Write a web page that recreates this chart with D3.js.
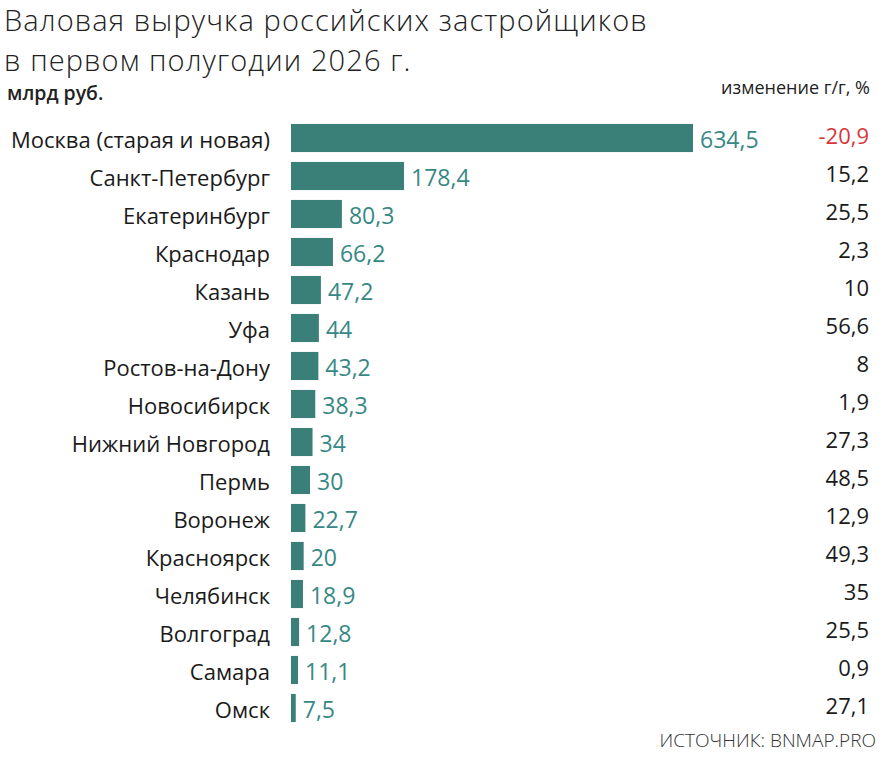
<!DOCTYPE html>
<html>
<head>
<meta charset="utf-8">
<script src="https://cdn.jsdelivr.net/npm/d3@7"></script>
<style>
  body { margin: 0; background: #fff; }
  svg { display: block; }
</style>
</head>
<body>
<svg id="chart"></svg>
<script>
const CITIES = ['Москва (старая и новая)', 'Санкт-Петербург', 'Екатеринбург', 'Краснодар', 'Казань', 'Уфа',
    'Ростов-на-Дону', 'Новосибирск', 'Нижний Новгород', 'Пермь', 'Воронеж', 'Красноярск',
    'Челябинск', 'Волгоград', 'Самара', 'Омск'];
const REVENUE = [634.5, 178.4, 80.3, 66.2, 47.2, 44, 43.2, 38.3, 34, 30, 22.7, 20, 18.9, 12.8, 11.1, 7.5];
const CHANGE = [-20.9, 15.2, 25.5, 2.3, 10, 56.6, 8, 1.9, 27.3, 48.5, 12.9, 49.3, 35, 25.5, 0.9, 27.1];
const TITLE_LINES = ['Валовая выручка российских застройщиков', 'в первом полугодии 2026 г.'];

const WIDTH = 883;
const HEIGHT = 757;
const BAR_LEFT = 291;
const TOP = 119;
const STEP = 38;

const fmt = v => String(v).replace('.', ',');
const data = CITIES.map((c, i) => ({city: c, value: REVENUE[i], change: CHANGE[i]}));

const x = d3.scaleLinear().domain([0, 634.5]).range([BAR_LEFT, 693]);
const y = d3.scaleBand().domain(CITIES).range([TOP, TOP + STEP * CITIES.length]).paddingInner(0.26).paddingOuter(0.13);
const mid = d => y(d.city) + y.bandwidth() / 2;

const svg = d3.select('#chart').attr('width', WIDTH).attr('height', HEIGHT)
    .style('font-family', '"Open Sans", sans-serif');

// title block
svg.append('g').selectAll('text').data(TITLE_LINES).enter().append('text')
    .attr('x', 4)
    .attr('y', (d, i) => 31 + i * 39.5)
    .attr('font-size', 29).attr('font-weight', 300).attr('letter-spacing', 1.1).attr('fill', '#222')
    .text(d => d);
svg.append('text').attr('x', 7).attr('y', 99.5)
    .attr('font-size', 19.5).attr('font-weight', 600).attr('fill', '#222')
    .text('млрд руб.');
svg.append('text').attr('x', 870).attr('y', 94).attr('text-anchor', 'end')
    .attr('font-size', 18).attr('fill', '#222')
    .text('изменение г/г, %');

const rows = svg.append('g').selectAll('g').data(data).enter().append('g');

rows.append('rect')
    .attr('x', x(0))
    .attr('y', d => y(d.city))
    .attr('width', d => x(d.value) - x(0))
    .attr('height', y.bandwidth())
    .attr('fill', '#3a8079');

// city names
rows.append('text')
    .attr('x', 270)
    .attr('y', d => mid(d) + 2)
    .attr('dy', '0.35em')
    .attr('text-anchor', 'end')
    .attr('font-size', 22)
    .attr('fill', '#1a1a1a')
    .text(d => d.city);

// values next to bars
rows.append('text')
    .attr('x', d => x(d.value) + 7)
    .attr('y', d => mid(d) + 2)
    .attr('dy', '0.35em')
    .attr('font-size', 23)
    .attr('fill', '#378884')
    .text(d => fmt(d.value));

// y/y change column
rows.append('text')
    .attr('x', 869)
    .attr('y', d => mid(d) - 2)
    .attr('dy', '0.35em')
    .attr('text-anchor', 'end')
    .attr('font-size', 22)
    .attr('fill', d => d.change < 0 ? '#d8353b' : '#1a1a1a')
    .text(d => fmt(d.change));

svg.append('text').attr('x', 876).attr('y', 747).attr('text-anchor', 'end')
    .attr('font-size', 19).attr('font-weight', 300).attr('fill', '#333')
    .text('ИСТОЧНИК: BNMAP.PRO');
</script>
</body>
</html>
